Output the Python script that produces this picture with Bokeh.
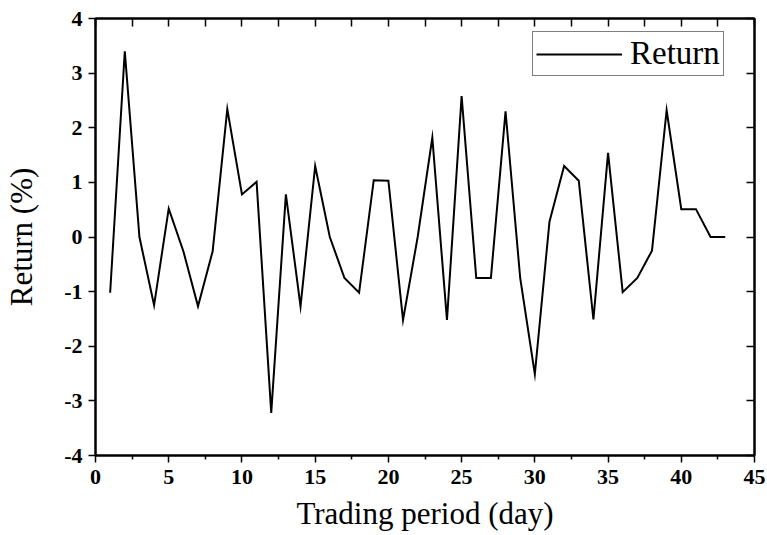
from bokeh.plotting import figure
from bokeh.models import Range1d, FixedTicker, LinearAxis, Legend, LegendItem
from bokeh.embed import file_html
from bokeh.resources import INLINE

days = list(range(1, 44))
returns = [-1.02, 3.40, 0.00, -1.25, 0.52, -0.26, -1.27, -0.26, 2.34, 0.78,
           1.01, -3.22, 0.78, -1.27, 1.30, 0.00, -0.75, -1.02, 1.04, 1.03,
           -1.52, 0.00, 1.82, -1.52, 2.58, -0.75, -0.75, 2.30, -0.75, -2.51,
           0.28, 1.30, 1.03, -1.51, 1.54, -1.01, -0.75, -0.25, 2.32, 0.51,
           0.51, 0.00, 0.00]
x_ticks = [0, 5, 10, 15, 20, 25, 30, 35, 40, 45]
x_minor = [2.5, 7.5, 12.5, 17.5, 22.5, 27.5, 32.5, 37.5, 42.5]
y_ticks = [-4, -3, -2, -1, 0, 1, 2, 3, 4]
x_label = "Trading period (day)"
y_label = "Return (%)"
series_name = "Return"

FONT = "Liberation Serif"

p = figure(frame_width=659, frame_height=437,
           min_border_left=95, min_border_right=13, min_border_top=18, min_border_bottom=80,
           x_range=Range1d(0, 45), y_range=Range1d(-4, 4),
           output_backend="svg", toolbar_location=None)
p.grid.visible = False
p.outline_line_color = "black"
p.outline_line_width = 2

r = p.line(days, returns, line_color="black", line_width=2, line_join="miter")

# bottom axis
xa = p.xaxis[0]
xa.ticker = FixedTicker(ticks=x_ticks, minor_ticks=x_minor)
xa.axis_label = x_label
xa.axis_label_text_font = FONT
xa.axis_label_text_font_style = "normal"
xa.axis_label_text_font_size = "31px"
xa.axis_label_text_color = "black"
xa.axis_label_standoff = 9
xa.major_label_text_font = FONT
xa.major_label_text_font_style = "bold"
xa.major_label_text_font_size = "22px"
xa.major_label_text_color = "black"
xa.major_label_standoff = 7
xa.major_tick_in = 0
xa.major_tick_out = 7
xa.minor_tick_in = 0
xa.minor_tick_out = 4
xa.axis_line_width = 2
xa.major_tick_line_width = 1.5
xa.minor_tick_line_width = 1.5

# left axis
ya = p.yaxis[0]
ya.ticker = FixedTicker(ticks=y_ticks, minor_ticks=[])
ya.major_label_overrides = {t: str(t) for t in y_ticks}
ya.axis_label = y_label
ya.axis_label_text_font = FONT
ya.axis_label_text_font_style = "normal"
ya.axis_label_text_font_size = "31px"
ya.axis_label_text_color = "black"
ya.axis_label_standoff = 22
ya.major_label_text_font = FONT
ya.major_label_text_font_style = "bold"
ya.major_label_text_font_size = "22px"
ya.major_label_text_color = "black"
ya.major_label_standoff = 6
ya.major_tick_in = 0
ya.major_tick_out = 7
ya.minor_tick_in = 0
ya.minor_tick_out = 0
ya.axis_line_width = 2
ya.major_tick_line_width = 1.5

# top axis (ticks inward, no labels)
top_ticks = x_ticks + x_minor
top = LinearAxis(ticker=FixedTicker(ticks=top_ticks, minor_ticks=[]),
                 major_label_overrides={t: "" for t in top_ticks},
                 major_label_standoff=0,
                 major_tick_in=8, major_tick_out=0, minor_tick_in=0, minor_tick_out=0,
                 axis_line_width=2, major_tick_line_width=1.5)
p.add_layout(top, "above")

# right axis (ticks inward, no labels)
right = LinearAxis(ticker=FixedTicker(ticks=y_ticks, minor_ticks=[]),
                   major_label_overrides={t: "" for t in y_ticks},
                   major_label_standoff=0,
                   major_tick_in=8, major_tick_out=0, minor_tick_in=0, minor_tick_out=0,
                   axis_line_width=2, major_tick_line_width=1.5)
p.add_layout(right, "right")

legend = Legend(items=[LegendItem(label=series_name, renderers=[r])],
                location=(437, 379), margin=0, padding=3, spacing=0,
                glyph_width=86, glyph_height=20, label_standoff=8,
                label_text_font=FONT, label_text_font_size="33px",
                label_text_color="black",
                border_line_color="black", border_line_width=1,
                background_fill_color="white", background_fill_alpha=1)
p.add_layout(legend, "center")

open("out.html", "w").write(file_html(p, INLINE))
